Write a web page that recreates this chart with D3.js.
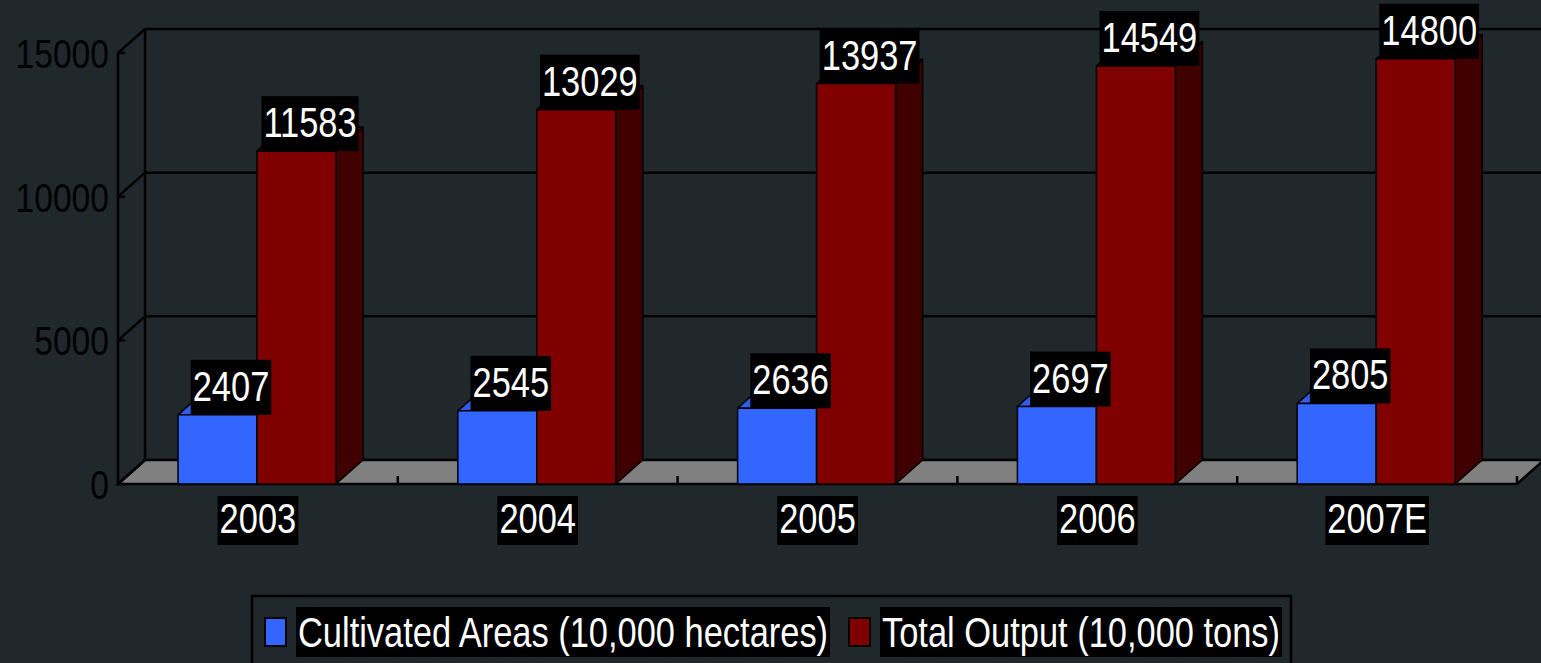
<!DOCTYPE html>
<html>
<head>
<meta charset="utf-8">
<script src="https://cdn.jsdelivr.net/npm/d3@7"></script>
<style>
  html, body { margin: 0; padding: 0; background: #20282b; overflow: hidden; }
  text { font-family: "Liberation Sans Narrow", "Liberation Sans", Arial, sans-serif; }
</style>
</head>
<body>
<div id="chart"></div>
<script>
var categories = ['2003', '2004', '2005', '2006', '2007E'];
var areas = [2407, 2545, 2636, 2697, 2805];
var output = [11583, 13029, 13937, 14549, 14800];
var seriesNames = ['Cultivated Areas (10,000 hectares)', 'Total Output (10,000 tons)'];
var yTicks = [0, 5000, 10000, 15000];

var width = 1541, height = 663,
    depth = {x: 27, y: -24},
    fontSize = 42,
    squeeze = 0.82; // narrow face look (Arial Narrow style)

var colors = [
  {front: '#3366ff', top: '#2f5de8', side: '#1f3d99'},
  {front: '#800000', top: '#5a0000', side: '#400000'}
];

var svg = d3.select('#chart').append('svg')
  .attr('width', width)
  .attr('height', height);

var x0 = d3.scaleBand().domain(categories).range([118, 1517]);
var x1 = d3.scaleBand().domain([0, 1]).range([60, 218]);
var y = d3.scaleLinear().domain([0, 15000]).range([484, 53]);

function pts(a) {
  return a.map(function(p) { return p[0] + ',' + p[1]; }).join(' ');
}

// text squeezed horizontally around its anchor point
function narrowText(parent, txt, x, baseline, anchor, size, fill) {
  var t = parent.append('text')
    .attr('transform', 'translate(' + x + ',' + baseline + ') scale(' + squeeze + ',1)')
    .attr('text-anchor', anchor)
    .attr('fill', fill)
    .style('font-size', size + 'px')
    .text(txt);
  return t;
}

// back wall + gridlines
var wall = svg.append('g');
yTicks.forEach(function(t) {
  wall.append('line')
    .attr('x1', 118 + depth.x).attr('x2', width + 5)
    .attr('y1', y(t) + depth.y).attr('y2', y(t) + depth.y)
    .attr('stroke', '#000').attr('stroke-width', 2.5);
});
wall.append('line')
  .attr('x1', 118 + depth.x).attr('x2', 118 + depth.x)
  .attr('y1', y(15000) + depth.y).attr('y2', y(0) + depth.y)
  .attr('stroke', '#000').attr('stroke-width', 2.5);

// floor
var fx0 = x0.range()[0], fx1 = x0.range()[1], fy = y(0);
svg.append('polygon')
  .attr('points', pts([[fx0, fy], [fx1, fy], [fx1 + depth.x, fy + depth.y], [fx0 + depth.x, fy + depth.y]]))
  .attr('fill', '#808080')
  .attr('stroke', '#000').attr('stroke-width', 2.5);

// floor ticks at category boundaries
categories.forEach(function(c) {
  var tx = x0(c) + x0.bandwidth();
  svg.append('line')
    .attr('x1', tx).attr('x2', tx)
    .attr('y1', fy).attr('y2', fy - 8)
    .attr('stroke', '#000').attr('stroke-width', 2.5);
});

// front y axis
svg.append('line')
  .attr('x1', 118).attr('x2', 118)
  .attr('y1', y(15000)).attr('y2', y(0))
  .attr('stroke', '#000').attr('stroke-width', 2.5);
yTicks.forEach(function(t) {
  svg.append('line')
    .attr('x1', 118).attr('x2', 118 + depth.x)
    .attr('y1', y(t)).attr('y2', y(t) + depth.y)
    .attr('stroke', '#000').attr('stroke-width', 2.5);
  svg.append('line')
    .attr('x1', 118).attr('x2', 125)
    .attr('y1', y(t)).attr('y2', y(t))
    .attr('stroke', '#000').attr('stroke-width', 2.5);
  narrowText(svg, t, 109, y(t) + 15, 'end', 41, '#000');
});

// bars
var bars = svg.append('g');
var labels = [];
categories.forEach(function(c, i) {
  [areas[i], output[i]].forEach(function(v, s) {
    var bx0 = x0(c) + x1(s), bx1 = bx0 + x1.bandwidth(),
        top = y(v), base = y(0), col = colors[s];
    var g = bars.append('g')
      .attr('stroke', '#000').attr('stroke-width', 1.5).attr('stroke-linejoin', 'round');
    g.append('polygon')
      .attr('points', pts([[bx1, top], [bx1 + depth.x, top + depth.y], [bx1 + depth.x, base + depth.y], [bx1, base]]))
      .attr('fill', col.side);
    g.append('polygon')
      .attr('points', pts([[bx0, top], [bx1, top], [bx1 + depth.x, top + depth.y], [bx0 + depth.x, top + depth.y]]))
      .attr('fill', col.top);
    g.append('rect')
      .attr('x', bx0).attr('y', top)
      .attr('width', bx1 - bx0).attr('height', base - top)
      .attr('fill', col.front);
    labels.push({v: v, cx: (bx0 + bx1) / 2 + depth.x / 2, bottom: top});
  });
});

// white text on a black box
function boxedText(parent, txt, x, baseline, boxTop, boxBottom, anchor) {
  anchor = anchor || 'middle';
  var g = parent.append('g');
  var rect = g.append('rect').attr('fill', '#000');
  var t = narrowText(g, txt, x, baseline, anchor, fontSize, '#fff');
  var w = t.node().getComputedTextLength() * squeeze;
  var left = anchor === 'start' ? x : x - w / 2;
  rect.attr('x', left - 2).attr('width', w + 4)
    .attr('y', boxTop).attr('height', boxBottom - boxTop);
  return t;
}

var lab = svg.append('g');
labels.forEach(function(d) {
  boxedText(lab, d.v, d.cx, d.bottom - 14, d.bottom - 55, d.bottom);
});

categories.forEach(function(c) {
  boxedText(lab, c, x0(c) + x0.bandwidth() / 2, 533, 496, 545);
});

// legend
var legend = svg.append('g');
legend.append('rect')
  .attr('x', 252).attr('y', 596)
  .attr('width', 1291 - 252).attr('height', 100)
  .attr('fill', 'none').attr('stroke', '#000').attr('stroke-width', 2.5);

var legendX = [265, 849];
seriesNames.forEach(function(name, s) {
  legend.append('rect')
    .attr('x', legendX[s]).attr('y', 618)
    .attr('width', 21).attr('height', 28)
    .attr('fill', colors[s].front)
    .attr('stroke', '#000').attr('stroke-width', 2);
  boxedText(legend, name, legendX[s] + 33, 647, 607, 657, 'start');
});
</script>
</body>
</html>
